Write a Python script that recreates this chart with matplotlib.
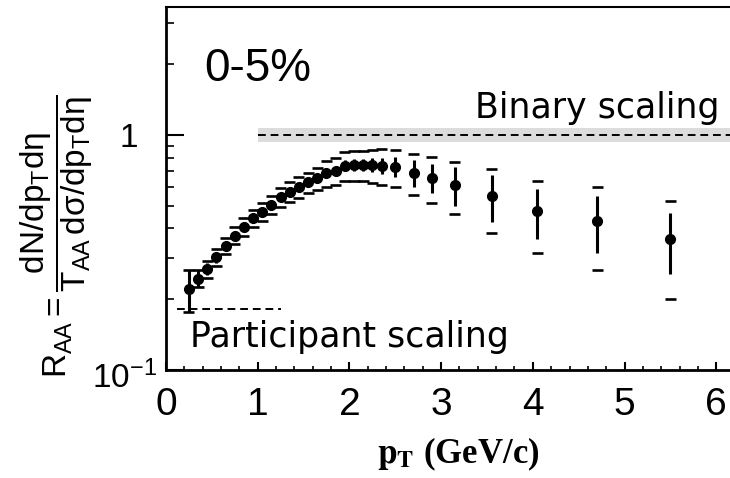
import numpy as np
import matplotlib
matplotlib.use('Agg')
import matplotlib.pyplot as plt
from matplotlib.ticker import FixedLocator, NullFormatter

plt.rcParams['font.family'] = ['Liberation Sans', 'DejaVu Sans']
plt.rcParams['mathtext.fontset'] = 'custom'
plt.rcParams['mathtext.rm'] = 'Liberation Sans'
plt.rcParams['mathtext.it'] = 'Liberation Sans'
plt.rcParams['mathtext.bf'] = 'Liberation Sans:bold'

# R_AA central 0-5%
pt = np.array([0.25, 0.35, 0.45, 0.55, 0.65, 0.75, 0.85, 0.95, 1.05, 1.15,
               1.25, 1.35, 1.45, 1.55, 1.65, 1.75, 1.85, 1.95, 2.05, 2.15,
               2.25, 2.35, 2.5, 2.7, 2.9, 3.15, 3.55, 4.05, 4.7, 5.5])
raa = np.array([0.221, 0.245, 0.269, 0.301, 0.338, 0.373, 0.407, 0.442, 0.472, 0.504,
                0.543, 0.574, 0.599, 0.629, 0.654, 0.687, 0.705, 0.740, 0.745, 0.745,
                0.745, 0.740, 0.733, 0.691, 0.658, 0.615, 0.550, 0.476, 0.432, 0.361])
stat = np.array([0.044, 0.020, 0.016, 0.016, 0.016, 0.017, 0.018, 0.019, 0.020, 0.021,
                 0.022, 0.024, 0.026, 0.028, 0.030, 0.033, 0.036, 0.040, 0.043, 0.046,
                 0.050, 0.055, 0.074, 0.092, 0.094, 0.117, 0.124, 0.114, 0.116, 0.106])
syst = np.array([0.044, 0.020, 0.022, 0.025, 0.028, 0.031, 0.034, 0.037, 0.040, 0.045,
                 0.050, 0.055, 0.060, 0.062, 0.070, 0.085, 0.090, 0.105, 0.108, 0.110,
                 0.120, 0.130, 0.130, 0.135, 0.146, 0.155, 0.168, 0.160, 0.167, 0.160])

# lignes de reference
binary_x = [1.0, 6.15]
binary_band = [0.93, 1.07]
part_x = [0.12, 1.25]
part_y = 0.181

fig = plt.figure(figsize=(7.3, 4.78), dpi=100)
ax = fig.add_axes([166/730, 1 - 370/478, 1 - 166/730, 363/478])

ax.set_yscale('log')
ax.set_xlim(0, 6.15)
ax.set_ylim(0.1, 3.5)

# bande grise + tirets (binary scaling)
ax.fill_between(binary_x, binary_band[0], binary_band[1], color='#dcdcdc', lw=0)
ax.plot(binary_x, [1, 1], color='k', ls=(0, (4, 2.5)), lw=1.4)
ax.plot(part_x, [part_y, part_y], color='k', ls=(0, (4, 2.5)), lw=1.4)

# systematiques en traits horizontaux
ax.hlines(raa + syst, pt - 0.06, pt + 0.06, color='k', lw=1.9)
ax.hlines(raa - syst, pt - 0.06, pt + 0.06, color='k', lw=1.9)
ax.errorbar(pt, raa, yerr=stat, fmt='o', color='k', ms=7, elinewidth=2.2, capsize=0)

ax.text(0.42, 1.69, '0-5%', fontsize=33, va='baseline')
ax.text(6.04, 1.18, 'Binary scaling', fontsize=25, va='baseline', ha='right',
        family='DejaVu Sans')
ax.text(0.26, 0.125, 'Participant scaling', fontsize=25, va='baseline',
        family='DejaVu Sans')

# ticks
ax.xaxis.set_major_locator(FixedLocator([0, 1, 2, 3, 4, 5, 6]))
ax.xaxis.set_minor_locator(FixedLocator(np.arange(0, 6.15, 0.2)))
ax.set_yticks([0.1, 1], labels=['', '1'])
ax.yaxis.set_minor_locator(FixedLocator([0.2, 0.3, 0.4, 0.5, 0.6, 0.7, 0.8, 0.9, 2, 3]))
ax.yaxis.set_minor_formatter(NullFormatter())
ax.tick_params(axis='x', which='major', direction='in', length=6, width=1.5, labelsize=28, pad=12)
ax.tick_params(axis='x', which='minor', direction='in', length=3, width=1.2)
ax.tick_params(axis='y', which='major', direction='in', length=13, width=1.5, labelsize=24, pad=20)
ax.tick_params(axis='y', which='minor', direction='in', length=6, width=1.2)

ax.spines['right'].set_visible(False)
ax.spines['left'].set_linewidth(2)
ax.spines['bottom'].set_linewidth(2)
ax.spines['top'].set_linewidth(1.5)

# 10^-1 place a la main (plus proche de l'axe que le "1")
fig.text(157/730, 1 - 388/478, r'$10^{-1}$', fontsize=24, ha='right', va='baseline')

fig.text(57/730, 1 - 236/478,
         r'$R_{AA} = \dfrac{dN/dp_{T}d\eta\hspace{0.6}}{T_{AA}\,d\sigma/dp_{T}d\eta}$',
         rotation=90, fontsize=24, ha='center', va='center')
fig.text(458/730, 1 - 463/478, r'$\mathbf{p}_{\mathbf{T}}$ (GeV/c)',
         fontsize=25, family='Liberation Serif', weight='bold',
         math_fontfamily='stix', ha='center', va='baseline')

fig.savefig('out.png', dpi=100)
